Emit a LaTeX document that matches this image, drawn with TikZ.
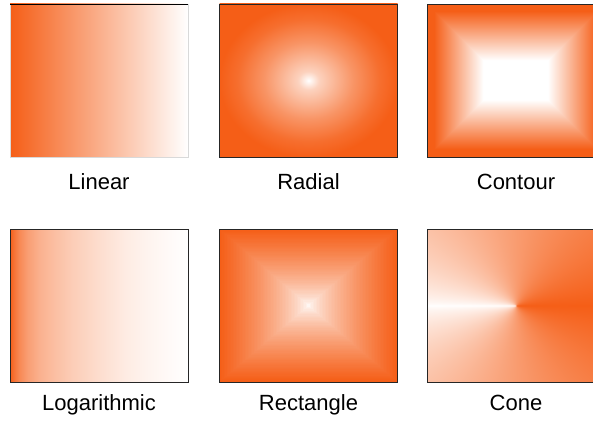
\documentclass[tikz,border=0pt]{standalone}
\usepackage{fontspec}
\setmainfont{Liberation Sans}
\usetikzlibrary{positioning,backgrounds}
\definecolor{accent}{RGB}{245,94,23}
\pgfdeclarehorizontalshading{logfade}{100bp}{color(0bp)=(accent); color(25bp)=(accent);
  color(26bp)=(accent!88); color(27.5bp)=(accent!74); color(30bp)=(accent!60);
  color(33.5bp)=(accent!48); color(37.5bp)=(accent!40); color(42.5bp)=(accent!31);
  color(50bp)=(accent!21); color(57.5bp)=(accent!12); color(65bp)=(accent!6);
  color(75bp)=(white); color(100bp)=(white)}
\pgfdeclareradialshading{radfade}{\pgfpoint{0bp}{0bp}}{color(0bp)=(white);
  color(3bp)=(accent!28); color(12.5bp)=(accent!66); color(20bp)=(accent!90);
  color(25bp)=(accent); color(50bp)=(accent)}
% white along the left ray, full colour along the right ray
\pgfdeclarefunctionalshading{conefade}{\pgfpoint{-50bp}{-50bp}}{\pgfpoint{50bp}{50bp}}{}{
  0.0001 add exch atan 180 sub abs 180 div 0.7 exp
  dup 0.039 mul 1 exch sub
  exch dup 0.631 mul 1 exch sub
  exch 0.910 mul 1 exch sub
}
\begin{document}
\begin{tikzpicture}[x=1pt, y=-1pt,
  panel/.style   = {draw=black!85, line width=0.8pt,
                    minimum width=178pt, minimum height=153pt,
                    inner sep=0pt, outer sep=0pt},
  caption/.style = {font=\fontsize{22}{26}\selectfont, inner sep=0pt},
]
\useasboundingbox (0,0) rectangle (593,420);
% top row
\node[panel, draw=black!15, left color=accent, right color=white] (lin) at (99,80.5) {};
\draw[black, line width=0.8pt] (lin.north west) -- (lin.north east);
\node[panel, shading=radfade] (rad) at (308.5,80.5) {};
\node[panel] (cont) at (516,80.5) {};
\begin{scope}[on background layer, shift={(cont.center)}]
  \foreach \d in {0,...,58}{
    \pgfmathsetmacro\p{100*min(1,max(0,1-(\d/58-0.12)/0.85))}
    \fill[accent!\p!white] (-89+\d,-76.5+\d) rectangle (89-\d,76.5-\d);
  }
\end{scope}
% bottom row
\node[panel, shading=logfade] (logr) at (99,305.5) {};
\node[panel] (rect) at (308.5,305.5) {};
\begin{scope}[on background layer, shift={(rect.center)}]
  \foreach \i in {0,...,60}{
    \pgfmathsetmacro\t{1-\i/60}
    \pgfmathsetmacro\p{100*max(\t,0.001)^0.7}
    \fill[accent!\p!white] (-89*\t,-76.5*\t) rectangle (89*\t,76.5*\t);
  }
\end{scope}
\node[panel, shading=conefade] (cone) at (516,305.5) {};
% captions
\node[caption, below=32pt of lin, anchor=base]    (linlab)  {Linear};
\node[caption, below=32pt of rad, anchor=base]    (radlab)  {Radial};
\node[caption, below=32pt of cont, anchor=base]   (contlab) {Contour};
\node[caption, below=28.5pt of logr, anchor=base] (loglab)  {Logarithmic};
\node[caption, below=28.5pt of rect, anchor=base] (rectlab) {Rectangle};
\node[caption, below=28.5pt of cone, anchor=base] (conelab) {Cone};
\end{tikzpicture}
\end{document}
